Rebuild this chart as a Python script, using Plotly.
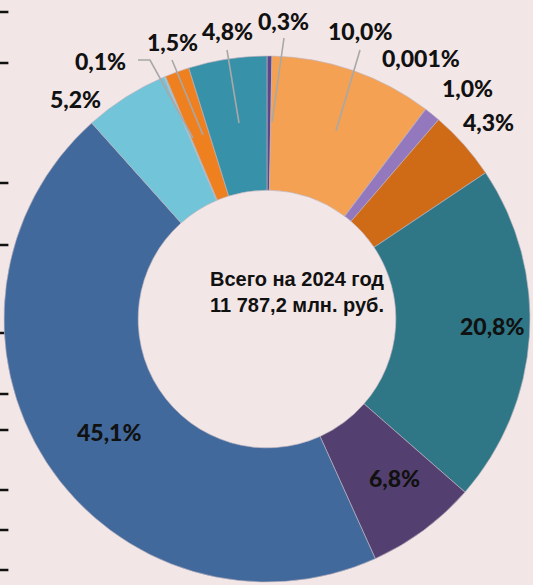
import plotly.graph_objects as go

# доли по статьям, по часовой стрелке от 12 часов
shares = [0.3, 10.0, 0.001, 1.0, 4.3, 20.8, 6.8, 45.1, 5.2, 0.1, 1.5, 4.8]
labels = ["0,3%", "10,0%", "0,001%", "1,0%", "4,3%", "20,8%",
          "6,8%", "45,1%", "5,2%", "0,1%", "1,5%", "4,8%"]
colors = ["#5d468a", "#f5a153", "#9b7cc4", "#9378bd", "#cf6b16", "#2f7787",
          "#544070", "#41699c", "#72c5d8", "#86cfe0", "#ef8020", "#3791a8"]

# обрывки делений слева (от соседней диаграммы)
tick_y = [12, 63, 183, 245, 333, 394, 430, 490, 530, 570]

W, H = 533, 585
BG = "#f2e6e6"

# центр подписей в пикселях
label_pos = [(283, 21), (360, 31), (421, 58), (467, 88), (488, 122), (492, 326),
             (394, 478), (109, 432), (75, 99), (100, 61), (172, 42), (227, 31)]
# выноски: список точек ломаной
leaders = [
    [(284, 38), (272, 122)],
    [(360, 50), (336, 131)],
    [(138, 60), (150, 60), (193, 138)],
    [(172, 60), (203, 135)],
    [(227, 50), (239, 123)],
]

cx, cy, R = 267, 319, 263

fig = go.Figure()
fig.add_trace(go.Pie(
    values=shares, labels=labels, sort=False, direction="clockwise",
    hole=0.49, textinfo="none", hoverinfo="label",
    marker=dict(colors=colors, line=dict(color="rgba(190,180,190,0.8)", width=0.8)),
    domain=dict(x=[(cx - R) / W, (cx + R) / W], y=[1 - (cy + R) / H, 1 - (cy - R) / H]),
    showlegend=False,
))
fig.add_trace(go.Scatter(
    x=[0] * len(tick_y), y=tick_y, mode="markers", hoverinfo="skip",
    marker=dict(symbol="line-ew", size=12, line=dict(color="#111111", width=2.5)),
    showlegend=False,
))

for pts in leaders:
    path = "M " + " L ".join(f"{x / W},{1 - y / H}" for x, y in pts)
    fig.add_shape(type="path", path=path, xref="paper", yref="paper",
                  line=dict(color="#a8a8a8", width=1.6))

for txt, (x, y) in zip(labels, label_pos):
    fig.add_annotation(x=x / W, y=1 - y / H, xref="paper", yref="paper",
                       xanchor="center", yanchor="middle",
                       text=txt, showarrow=False,
                       font=dict(family="Lato", size=23, color="#111111", weight=900))

fig.add_annotation(x=297 / W, y=1 - 292 / H, xref="paper", yref="paper",
                   xanchor="center", yanchor="middle",
                   text="<b>Всего на 2024 год<br>11 787,2 млн. руб.</b>",
                   showarrow=False,
                   font=dict(family="Liberation Sans", size=20, color="#111111"))

fig.update_layout(
    width=W, height=H, margin=dict(l=0, r=0, t=0, b=0),
    paper_bgcolor=BG, plot_bgcolor="rgba(0,0,0,0)",
    xaxis=dict(range=[0, W], visible=False, fixedrange=True),
    yaxis=dict(range=[H, 0], visible=False, fixedrange=True),
)
fig.write_html("out.html", config={"displayModeBar": False},
               post_script="document.body.style.margin='0';document.body.style.overflow='hidden';")
